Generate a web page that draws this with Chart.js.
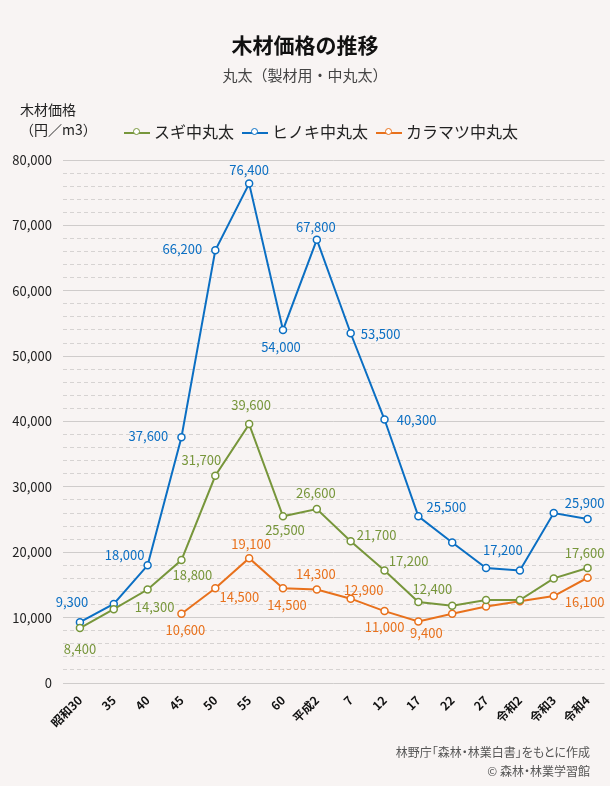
<!DOCTYPE html>
<html lang="ja">
<head>
<meta charset="utf-8">
<script src="https://cdn.jsdelivr.net/npm/chart.js@4.4.1/dist/chart.umd.min.js"></script>
<style>
  html, body { margin: 0; padding: 0; }
  body { width: 610px; height: 786px; background: #f8f4f3; position: relative; overflow: hidden;
         font-family: "Noto Sans CJK JP", "Noto Sans", sans-serif; color: #222; }
  #c { position: absolute; left: 0; top: 0; }
  .t { position: absolute; white-space: nowrap; }
  #title { left: 0; width: 610px; top: 29px; text-align: center; font-size: 21px; font-weight: bold; color: #111; }
  #sub { left: 0; width: 610px; top: 64px; text-align: center; font-size: 15px; color: #444; }
  #ytitle { left: 20px; top: 99px; font-size: 14px; line-height: 20px; color: #222; }
  #legend { left: 124px; top: 119px; font-size: 16px; color: #222; }
  .item { display: inline-block; margin-right: 8px; }
  .mk { display: inline-block; width: 26px; height: 2px; position: relative; vertical-align: middle; margin-right: 4px; top: -1px; }
  .mk i { position: absolute; left: 9px; top: -4px; width: 5px; height: 5px; border-radius: 50%; background: #fff; border: 1.5px solid; }
  #foot { right: 20px; top: 742px; font-size: 12px; line-height: 19px; color: #555; text-align: right;
          font-feature-settings: "palt"; }
</style>
</head>
<body>
<canvas id="c" width="610" height="786"></canvas>
<div class="t" id="title">木材価格の推移</div>
<div class="t" id="sub">丸太（製材用・中丸太）</div>
<div class="t" id="ytitle">木材価格<br>（円／m3）</div>
<div class="t" id="legend"></div>
<div class="t" id="foot">林野庁「森林・林業白書」をもとに作成<br>© 森林・林業学習館</div>
<script>
const categories = ['昭和30', '35', '40', '45', '50', '55', '60', '平成2', '7', '12', '17', '22', '27', '令和2', '令和3', '令和4'];

const seriesNames = ['スギ中丸太', 'ヒノキ中丸太', 'カラマツ中丸太'];

const sugi      = [8400, 11300, 14300, 18800, 31700, 39600, 25500, 26600, 21700, 17200, 12400, 11800, 12700, 12700, 16000, 17600];
const hinoki    = [9300, 12100, 18000, 37600, 66200, 76400, 54000, 67800, 53500, 40300, 25500, 21500, 17600, 17200, 26000, 25100];
const karamatsu = [null, null, null, 10600, 14500, 19100, 14500, 14300, 12900, 11000, 9400, 10600, 11700, 12500, 13300, 16100];

// printed value labels (null = no label)
const sugiLabels      = ['8,400', null, '14,300', '18,800', '31,700', '39,600', '25,500', '26,600', '21,700', '17,200', '12,400', null, null, null, null, '17,600'];
const hinokiLabels    = ['9,300', null, '18,000', '37,600', '66,200', '76,400', '54,000', '67,800', '53,500', '40,300', '25,500', null, null, '17,200', null, '25,900'];
const karamatsuLabels = [null, null, null, '10,600', '14,500', '19,100', '14,500', '14,300', '12,900', '11,000', '9,400', null, null, null, null, '16,100'];

const yTicks = [0, 10000, 20000, 30000, 40000, 50000, 60000, 70000, 80000];

const colors = ['#77963b', '#0b6fc3', '#e8711c'];

// where each label sits relative to its point [dx, dy]
const labelOffsets = [
    {0: [0, 21], 2: [7, 18], 3: [11, 15], 4: [-14, -16], 5: [2, -19], 6: [2, 14], 7: [-1, -16], 8: [26, -6], 9: [24, -9], 10: [14, -13], 15: [-3, -15]},
    {0: [-8, -20], 2: [-23, -10], 3: [-33, -1], 4: [-33, -1], 5: [0, -13], 6: [-2, 17], 7: [-1, -13], 8: [30, 1], 9: [32, 1], 10: [28, -9], 13: [-17, -20], 15: [-3, -16]},
    {3: [4, 16], 4: [24, 9], 5: [2, -14], 6: [4, 17], 7: [-1, -15], 8: [13, -9], 9: [0, 16], 10: [8, 12], 15: [-3, 24]}
];
const allLabels = [sugiLabels, hinokiLabels, karamatsuLabels];

// legend in html
const legend = document.getElementById('legend');
seriesNames.forEach((name, i) => {
    const it = document.createElement('span');
    it.className = 'item';
    it.innerHTML = '<span class="mk" style="background:' + colors[i] + '"><i style="border-color:' + colors[i] + '"></i></span>' + name;
    legend.appendChild(it);
});

const valueLabels = {
    id: 'valueLabels',
    afterDatasetsDraw(chart) {
        const ctx = chart.ctx;
        ctx.save();
        ctx.font = '13px "Noto Sans CJK JP", sans-serif';
        ctx.textAlign = 'center';
        ctx.textBaseline = 'middle';
        chart.data.datasets.forEach((ds, d) => {
            const meta = chart.getDatasetMeta(d);
            ctx.fillStyle = colors[d];
            allLabels[d].forEach((txt, i) => {
                if (!txt) return;
                const pt = meta.data[i];
                const off = labelOffsets[d][i] || [0, -14];
                ctx.fillText(txt, pt.x + off[0], pt.y + off[1]);
            });
        });
        ctx.restore();
    }
};

function makeSet(i, values) {
    return {
        label: seriesNames[i],
        data: values,
        borderColor: colors[i],
        backgroundColor: '#ffffff',
        pointBackgroundColor: '#ffffff',
        pointBorderColor: colors[i],
        borderWidth: 2,
        pointRadius: 3.5,
        pointBorderWidth: 1.5,
        tension: 0,
        spanGaps: false
    };
}

const chart = new Chart(document.getElementById('c').getContext('2d'), {
    type: 'line',
    data: {
        labels: categories,
        datasets: [makeSet(0, sugi), makeSet(1, hinoki), makeSet(2, karamatsu)]
    },
    plugins: [valueLabels],
    options: {
        responsive: false,
        animation: false,
        layout: { padding: { top: 160, right: 4, left: 0, bottom: 0 } },
        plugins: {
            legend: { display: false },
            tooltip: { enabled: false }
        },
        scales: {
            x: {
                offset: true,
                grid: { display: false },
                border: { display: false },
                ticks: {
                    color: '#111',
                    font: { family: '"Noto Sans CJK JP", sans-serif', size: 12, weight: 'bold' },
                    minRotation: 45,
                    maxRotation: 45,
                    autoSkip: false,
                    padding: 2
                },
                afterFit(scale) { scale.height = 103; }
            },
            y: {
                min: 0,
                max: 80000,
                border: {
                    display: false,
                    dash: (c) => (c.tick && c.tick.value % 10000 === 0) ? [] : [4, 3]
                },
                grid: {
                    drawTicks: false,
                    color: (c) => (c.tick && c.tick.value % 10000 === 0) ? '#cfcccb' : '#d6d3d2',
                    lineWidth: 1
                },
                ticks: {
                    stepSize: 2000,
                    autoSkip: false,
                    padding: 11,
                    color: '#222',
                    font: { family: '"Noto Sans CJK JP", sans-serif', size: 13 },
                    callback: (v) => yTicks.includes(v) ? v.toLocaleString('en-US') : ''
                },
                afterFit(scale) { scale.width = 63; }
            }
        }
    }
});
</script>
</body>
</html>
